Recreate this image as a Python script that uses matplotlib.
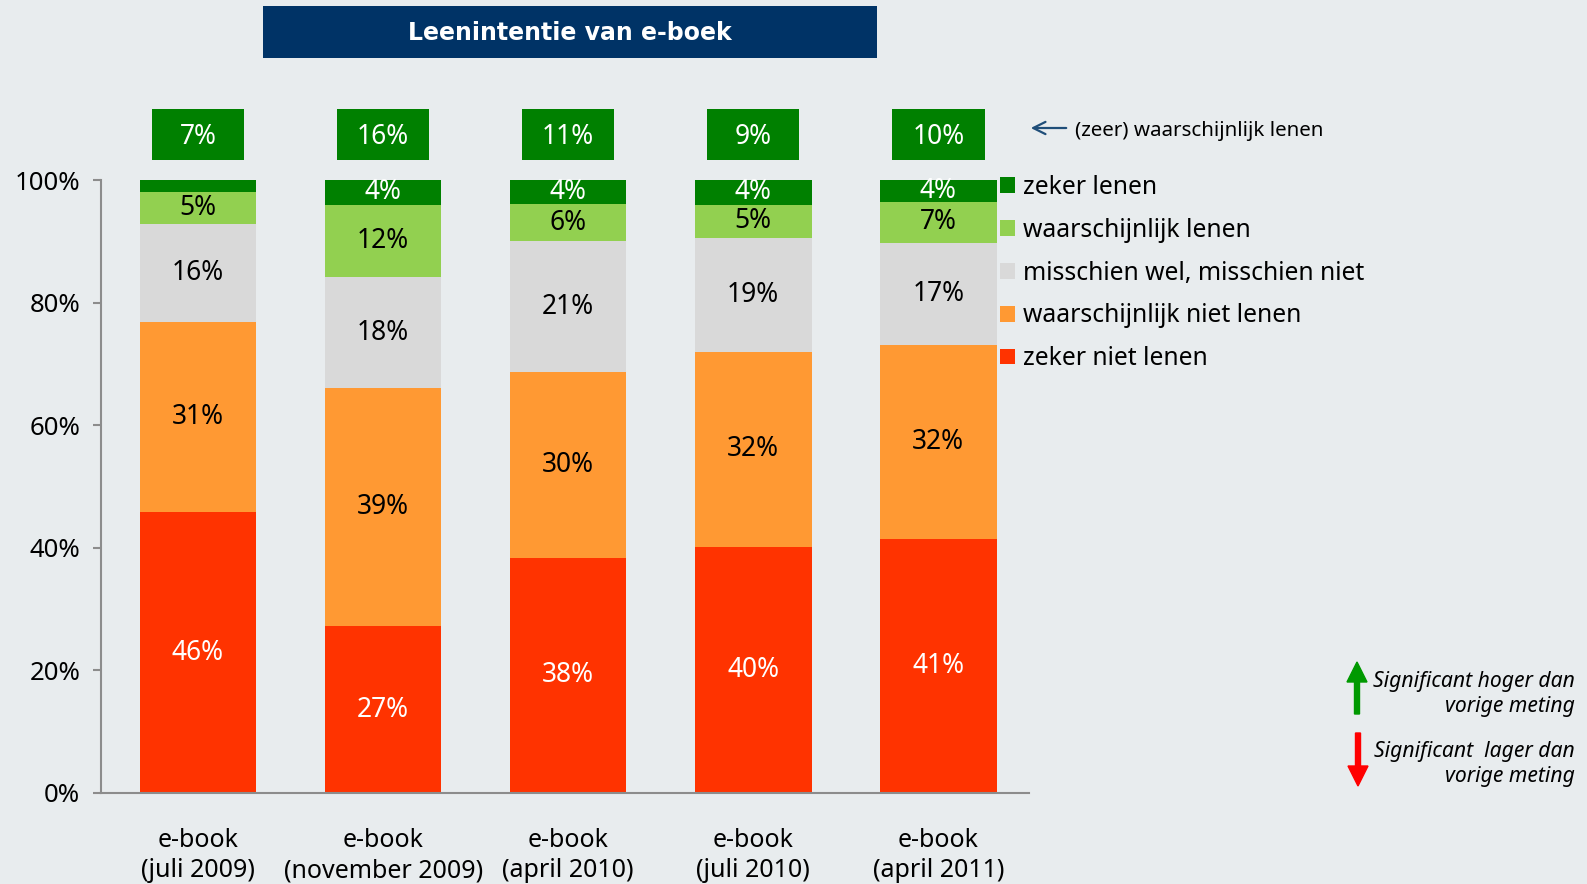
import matplotlib
matplotlib.use("Agg")
import matplotlib.pyplot as plt
from matplotlib.patches import Rectangle, FancyArrow
import numpy as np

plt.rcParams['font.family'] = ['Noto Sans', 'DejaVu Sans']

categories = ["e-book\n(juli 2009)", "e-book\n(november 2009)", "e-book\n(april 2010)",
              "e-book\n(juli 2010)", "e-book\n(april 2011)"]
series_names = ["zeker niet lenen", "waarschijnlijk niet lenen", "misschien wel, misschien niet",
                "waarschijnlijk lenen", "zeker lenen"]
zeker_niet = [45.8, 27.2, 38.4, 40.1, 41.4]
waarsch_niet = [31.0, 38.8, 30.2, 31.9, 31.7]
misschien = [16.0, 18.2, 21.4, 18.6, 16.7]
waarsch_wel = [5.2, 11.8, 6.1, 5.4, 6.6]
zeker_wel = [2.0, 4.0, 3.9, 4.0, 3.6]
top_totals = [7, 16, 11, 9, 10]
colors = ["#FF3300", "#FF9933", "#D9D9D9", "#92D050", "#008000"]
label_colors = ["white", "black", "black", "black", "white"]
yticks = [0, 20, 40, 60, 80, 100]

BG = "#E8ECEE"
W, H = 1587, 884
fig = plt.figure(figsize=(W / 100, H / 100), dpi=100, facecolor=BG)

left_px, right_px, y0_px, y100_px = 101, 1029, 793, 180
ax = fig.add_axes([left_px / W, 1 - y0_px / H, (right_px - left_px) / W, (y0_px - y100_px) / H])
ax.set_facecolor(BG)

x = np.arange(len(categories))
series = [zeker_niet, waarsch_niet, misschien, waarsch_wel, zeker_wel]
bottom = np.zeros(len(categories))
handles = []
bw = 0.63
for vals, col, lc, name in zip(series, colors, label_colors, series_names):
    vals = np.array(vals)
    b = ax.bar(x, vals, bw, bottom=bottom, color=col, label=name, edgecolor='none')
    handles.append(b)
    for xi, v, bt in zip(x, vals, bottom):
        if v >= 3:
            ax.text(xi, bt + v / 2, f"{v:.0f}%", ha='center', va='center', color=lc, fontsize=19)
    bottom = bottom + vals

# top boxes with totals
for xi, t in zip(x, top_totals):
    ax.add_patch(Rectangle((xi - 0.25, 103.3), 0.5, 8.3, facecolor="#008000", edgecolor='none', clip_on=False))
    ax.text(xi, 107.0, f"{t}%", ha='center', va='center', color='white', fontsize=19, clip_on=False)

ax.set_xlim(-0.524, 4.49)
ax.set_ylim(0, 100)
ax.set_yticks(yticks)
ax.set_yticklabels([f"{v}%" for v in yticks], fontsize=18.5)
ax.set_xticks(x)
ax.set_xticklabels(categories, fontsize=18, linespacing=1.3)
ax.tick_params(axis='x', length=0, pad=25)
ax.tick_params(axis='y', length=6, width=1.5, color='#8C8C8C', pad=9)
for s in ['top', 'right']:
    ax.spines[s].set_visible(False)
for s in ['left', 'bottom']:
    ax.spines[s].set_color('#8C8C8C')
    ax.spines[s].set_linewidth(1.5)

leg = ax.legend(handles=handles[::-1], loc='upper left', bbox_to_anchor=(1000 / W, 1 - 175 / H),
                bbox_transform=fig.transFigure, frameon=False, fontsize=17.8,
                handlelength=0.6, handleheight=0.6, handletextpad=0.35, labelspacing=0.72,
                borderaxespad=0, borderpad=0)

# overlay for annotations in pixel coords
ov = fig.add_axes([0, 0, 1, 1], facecolor='none')
ov.set_xlim(0, W)
ov.set_ylim(H, 0)
ov.axis('off')

ov.add_patch(Rectangle((263, 6), 614, 52, facecolor="#003366", edgecolor='none'))
ov.text(570, 33, "Leenintentie van e-boek", ha='center', va='center', color='white',
        fontsize=17, fontweight='bold', family='DejaVu Sans')

ov.annotate("", xy=(1028, 128), xytext=(1069, 128),
            arrowprops=dict(arrowstyle='->', color='#1F4E79', lw=1.6, mutation_scale=22))
ov.text(1075, 131, "(zeer) waarschijnlijk lenen", ha='left', va='center', fontsize=14.8)

ov.add_patch(FancyArrow(1357, 714, 0, -52, width=5, head_width=20, head_length=20,
                        length_includes_head=True, color='#009900'))
ov.add_patch(FancyArrow(1358, 733, 0, 53, width=5, head_width=20, head_length=20,
                        length_includes_head=True, color='#FF0000'))
ov.text(1575, 694, "Significant hoger dan\nvorige meting", ha='right', va='center',
        fontsize=15.2, style='italic', linespacing=1.2)
ov.text(1575, 764, "Significant  lager dan\nvorige meting", ha='right', va='center',
        fontsize=15.2, style='italic', linespacing=1.2)

fig.savefig("out.png", dpi=100, facecolor=BG)
